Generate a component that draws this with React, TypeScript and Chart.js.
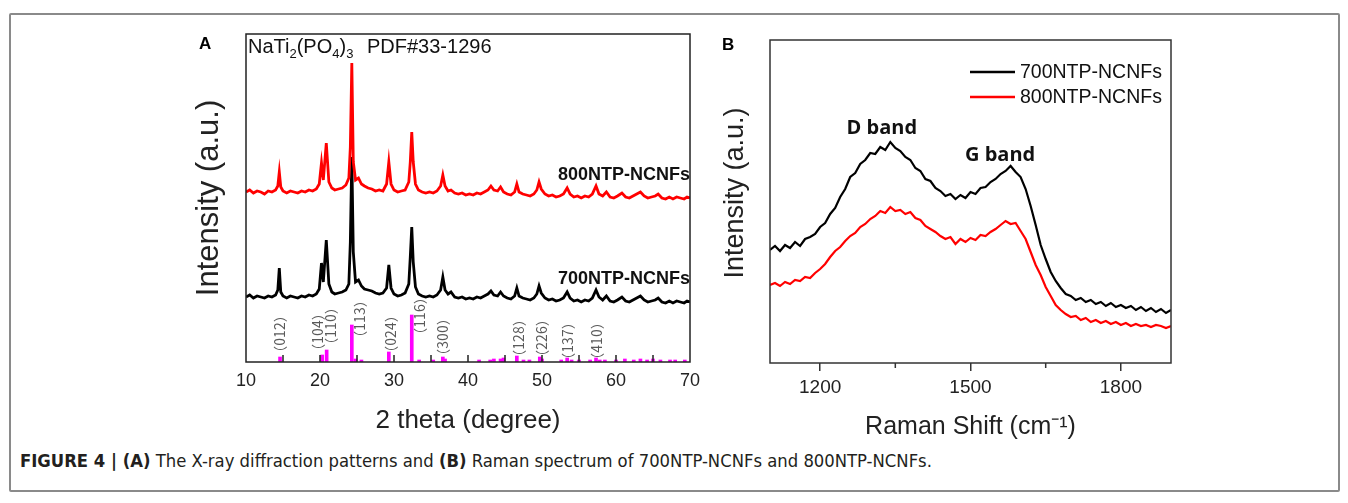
import React, { useEffect, useRef } from 'react';
import { Chart, registerables } from 'chart.js';

Chart.register(...registerables);

const SANS = '"Liberation Sans", Arial, Helvetica, sans-serif';
const CJK = '"Noto Sans CJK SC", "Liberation Sans", sans-serif';
const BAND = '"Open Sans", "Liberation Sans", sans-serif';

// ---------------- Panel A : XRD ----------------
const xrdTheta = [
  10.0, 10.5, 11.0, 11.5, 12.0, 12.5, 13.0, 13.5, 14.0, 14.3,
  14.5, 14.7, 15.0, 15.5, 16.0, 16.5, 17.0, 17.5, 18.0, 18.5,
  19.0, 19.5, 19.9, 20.2, 20.45, 20.85, 21.2, 21.6, 22.0, 22.5,
  23.0, 23.5, 23.9, 24.1, 24.3, 24.5, 24.8, 25.2, 25.6, 26.0,
  26.5, 27.0, 27.5, 28.0, 28.5, 29.0, 29.3, 29.6, 30.0, 30.5,
  31.0, 31.5, 32.0, 32.2, 32.4, 32.6, 32.9, 33.3, 33.8, 34.3,
  34.8, 35.3, 35.8, 36.3, 36.6, 36.9, 37.3, 37.7, 38.2, 38.7,
  39.2, 39.7, 40.2, 40.7, 41.2, 41.7, 42.2, 42.7, 43.1, 43.5,
  44.0, 44.4, 44.8, 45.3, 45.8, 46.3, 46.6, 46.9, 47.4, 47.9,
  48.4, 48.9, 49.3, 49.6, 49.9, 50.4, 50.9, 51.4, 51.9, 52.4,
  52.9, 53.4, 53.8, 54.3, 54.8, 55.3, 55.8, 56.3, 56.8, 57.3,
  57.7, 58.2, 58.7, 59.2, 59.7, 60.2, 60.8, 61.3, 61.8, 62.3,
  62.8, 63.3, 63.8, 64.3, 64.8, 65.3, 65.7, 66.2, 66.7, 67.2,
  67.7, 68.2, 68.7, 69.2, 69.6, 70.0,
];

const xrd800 = [
  170, 172, 169, 171, 170, 168, 171, 170, 172, 176,
  190, 175, 171, 169, 171, 170, 169, 171, 170, 172,
  171, 173, 178, 199, 182, 219, 180, 174, 172, 173,
  174, 177, 184, 215, 299, 200, 182, 184, 178, 176,
  174, 173, 171, 172, 171, 178, 200, 178, 172, 170,
  171, 172, 180, 200, 230, 200, 178, 172, 170, 169,
  170, 169, 171, 176, 187, 176, 171, 172, 169, 168,
  169, 167, 168, 167, 169, 168, 170, 172, 176, 172,
  171, 175, 170, 168, 167, 170, 178, 170, 168, 167,
  166, 168, 172, 180, 173, 168, 166, 167, 165, 166,
  168, 174, 168, 165, 166, 164, 166, 165, 168, 176,
  168, 166, 170, 165, 164, 166, 169, 165, 164, 166,
  168, 170, 166, 164, 165, 166, 168, 164, 163, 165,
  163, 165, 164, 163, 165, 164,
];

const xrd700 = [
  65, 67, 64, 66, 65, 64, 66, 65, 67, 72,
  94, 70, 66, 64, 66, 65, 64, 66, 65, 67,
  66, 68, 73, 99, 80, 122, 78, 70, 68, 69,
  70, 72, 78, 120, 205, 110, 80, 82, 76, 73,
  72, 71, 69, 68, 69, 74, 97, 74, 68, 66,
  67, 69, 78, 105, 135, 100, 75, 68, 66, 65,
  66, 65, 67, 72, 85, 72, 68, 70, 65, 64,
  65, 63, 64, 63, 65, 64, 66, 68, 71, 67,
  66, 70, 66, 64, 63, 66, 74, 66, 64, 63,
  62, 64, 68, 76, 69, 64, 62, 63, 61, 62,
  64, 70, 64, 61, 62, 60, 62, 61, 64, 72,
  65, 62, 66, 61, 60, 62, 65, 61, 60, 62,
  64, 66, 62, 60, 61, 62, 64, 60, 59, 61,
  59, 61, 60, 59, 61, 60,
];

// NaTi2(PO4)3 reference pattern (PDF#33-1296)
const pdfTheta = [
  14.6, 20.3, 20.9, 24.3, 24.8, 25.6, 29.3, 32.4, 33.4, 35.3,
  36.6, 36.9, 41.5, 43.0, 43.5, 44.4, 44.8, 46.6, 47.5, 48.3,
  49.7, 50.0, 52.6, 53.4, 54.0, 55.0, 56.5, 57.3, 57.8, 58.5,
  60.0, 61.2, 62.4, 63.3, 64.2, 65.0, 66.0, 67.3, 68.0, 69.3,
];
const pdfIntensity = [
  5, 7, 12, 37, 3, 2, 10, 47, 2, 2,
  5, 3, 2, 2, 3, 3, 4, 6, 2, 2,
  5, 3, 2, 4, 2, 2, 2, 4, 2, 2,
  2, 3, 2, 3, 2, 3, 2, 2, 2, 2,
];

const hklLabels = ['（012）', '（104）', '（110）', '（113）', '（024）', '（116）', '（300）', '（128）', '（226）', '（137）', '（410）'];
const hklTheta = [14.6, 19.7, 21.5, 25.4, 29.6, 33.5, 36.6, 46.8, 49.9, 53.5, 57.4];
const hklCenter = [28, 30, 36, 43, 28, 46, 25, 24, 24, 21, 21];

const xrdTicks = [10, 20, 30, 40, 50, 60, 70];
const xrdInnerTicks = [15, 20, 25, 30, 35, 40, 45, 50, 55, 60, 65];
const xrdSampleLabels = ['800NTP-NCNFs', '700NTP-NCNFs'];
const xrdSampleLabelY = [187, 83];

// ---------------- Panel B : Raman ----------------
const ramanShift = [
  1100, 1110, 1120, 1130, 1140, 1150, 1160, 1170, 1180, 1190,
  1200, 1210, 1220, 1230, 1240, 1250, 1260, 1270, 1280, 1290,
  1300, 1310, 1320, 1330, 1340, 1350, 1360, 1370, 1380, 1390,
  1400, 1410, 1420, 1430, 1440, 1450, 1460, 1470, 1480, 1490,
  1500, 1510, 1520, 1530, 1540, 1550, 1560, 1570, 1580, 1590,
  1600, 1610, 1620, 1630, 1640, 1650, 1660, 1670, 1680, 1690,
  1700, 1710, 1720, 1730, 1740, 1750, 1760, 1770, 1780, 1790,
  1800, 1810, 1820, 1830, 1840, 1850, 1860, 1870, 1880, 1890,
  1900,
];
const raman700 = [
  113, 117, 112, 118, 115, 121, 117, 124, 126, 129,
  136, 140, 149, 155, 166, 174, 186, 190, 199, 203,
  210, 209, 216, 213, 221, 215, 212, 206, 203, 195,
  192, 184, 182, 175, 172, 167, 169, 164, 168, 165,
  171, 169, 175, 176, 181, 184, 189, 192, 197, 191,
  186, 174, 157, 138, 118, 104, 91, 82, 75, 69,
  67, 63, 65, 61, 63, 59, 61, 57, 60, 56,
  58, 55, 57, 53, 56, 52, 55, 51, 54, 50,
  53,
];
const raman800 = [
  78, 80, 77, 81, 79, 83, 82, 86, 85, 90,
  94, 99, 106, 112, 116, 122, 127, 130, 136, 139,
  144, 147, 152, 150, 156, 152, 153, 149, 151, 145,
  143, 137, 134, 131, 127, 124, 126, 119, 124, 121,
  125, 123, 128, 127, 131, 134, 138, 142, 139, 140,
  132, 124, 111, 98, 88, 76, 67, 58, 53, 49,
  46, 47, 43, 45, 41, 43, 40, 42, 39, 41,
  38, 40, 37, 39, 37, 38, 36, 38, 37, 35,
  37,
];
const ramanTicks = [1200, 1500, 1800];
const ramanMinorTicks = [1350, 1650];
const bandLabels = ['D band', 'G band'];
const bandX = [1323, 1559];
const bandY = [235, 208];
const ramanYTitle = 'Intensity (a.u.)';
const ramanYTitleCenter = 170;

// ---------------- plugins ----------------
const panelAPlugin = {
  id: 'panelA',
  afterDatasetsDraw(chart: any) {
    const { ctx, chartArea: ca, scales } = chart;
    const x = scales.x;
    const y = scales.y;
    ctx.save();
    // hkl labels (rotated)
    ctx.fillStyle = '#5a5a5a';
    ctx.font = `14px ${CJK}`;
    ctx.textAlign = 'center';
    ctx.textBaseline = 'middle';
    hklLabels.forEach((t, i) => {
      const px = x.getPixelForValue(hklTheta[i]);
      const py = y.getPixelForValue(hklCenter[i]);
      ctx.save();
      ctx.translate(px, py);
      ctx.rotate(-Math.PI / 2);
      ctx.fillText(t, 0, 0);
      ctx.restore();
    });
    // sample labels
    ctx.fillStyle = '#111';
    ctx.font = `bold 18px ${SANS}`;
    ctx.textAlign = 'right';
    xrdSampleLabels.forEach((t, i) => {
      ctx.fillText(t, x.getPixelForValue(70), y.getPixelForValue(xrdSampleLabelY[i]));
    });
    // inward ticks
    ctx.strokeStyle = '#222';
    ctx.lineWidth = 1.5;
    ctx.beginPath();
    xrdInnerTicks.forEach((t) => {
      const px = x.getPixelForValue(t);
      ctx.moveTo(px, ca.bottom);
      ctx.lineTo(px, ca.bottom - 7);
    });
    ctx.stroke();
    // frame
    ctx.strokeRect(ca.left, ca.top, ca.right - ca.left, ca.bottom - ca.top);
    // formula title
    ctx.fillStyle = '#111';
    ctx.textAlign = 'left';
    ctx.textBaseline = 'alphabetic';
    const parts: [string, number][] = [['NaTi', 0], ['2', 1], ['(PO', 0], ['4', 1], [')', 0], ['3', 1]];
    let cx = ca.left + 2;
    const by = ca.top + 19;
    parts.forEach(([t, sub]) => {
      ctx.font = sub ? `13px ${SANS}` : `20px ${SANS}`;
      ctx.fillText(t, cx, sub ? by + 5 : by);
      cx += ctx.measureText(t).width;
    });
    ctx.font = `20px ${SANS}`;
    ctx.fillText('PDF#33-1296', ca.left + 121, by);
    // panel letter
    ctx.font = `bold 17px ${SANS}`;
    ctx.fillStyle = '#000';
    ctx.fillText('A', ca.left - 47, ca.top + 15);
    ctx.restore();
  },
};

const panelBPlugin = {
  id: 'panelB',
  afterDatasetsDraw(chart: any) {
    const { ctx, chartArea: ca, scales } = chart;
    const x = scales.x;
    const y = scales.y;
    ctx.save();
    ctx.strokeStyle = '#333';
    ctx.lineWidth = 1.5;
    ctx.strokeRect(ca.left, ca.top, ca.right - ca.left, ca.bottom - ca.top);
    ctx.beginPath();
    ramanMinorTicks.forEach((t) => {
      const px = x.getPixelForValue(t);
      ctx.moveTo(px, ca.bottom);
      ctx.lineTo(px, ca.bottom + 5);
    });
    ctx.stroke();
    // y-axis title
    ctx.save();
    ctx.fillStyle = '#222';
    ctx.font = `27px ${SANS}`;
    ctx.textAlign = 'center';
    ctx.textBaseline = 'middle';
    ctx.translate(ca.left - 34, y.getPixelForValue(ramanYTitleCenter));
    ctx.rotate(-Math.PI / 2);
    ctx.fillText(ramanYTitle, 0, 0);
    ctx.restore();
    // band labels
    ctx.fillStyle = '#111';
    ctx.font = `bold 20px ${BAND}`;
    ctx.textAlign = 'center';
    ctx.textBaseline = 'middle';
    bandLabels.forEach((t, i) => {
      ctx.fillText(t, x.getPixelForValue(bandX[i]), y.getPixelForValue(bandY[i]));
    });
    // legend
    ctx.textAlign = 'left';
    ctx.font = `19.5px ${SANS}`;
    chart.data.datasets.forEach((ds: any, i: number) => {
      const ly = ca.top + 32 + i * 25;
      const lx = ca.left + 200;
      ctx.strokeStyle = ds.borderColor;
      ctx.lineWidth = 2.5;
      ctx.beginPath();
      ctx.moveTo(lx, ly);
      ctx.lineTo(lx + 45, ly);
      ctx.stroke();
      ctx.fillStyle = '#111';
      ctx.fillText(ds.label, lx + 50, ly + 1);
    });
    // panel letter
    ctx.font = `bold 17px ${SANS}`;
    ctx.fillStyle = '#000';
    ctx.textBaseline = 'alphabetic';
    ctx.fillText('B', ca.left - 48, ca.top + 10);
    ctx.restore();
  },
};

function makeXrdConfig(): any {
  return {
    type: 'line',
    data: {
      datasets: [
        {
          label: '800NTP-NCNFs',
          data: xrdTheta.map((t, i) => ({ x: t, y: xrd800[i] })),
          borderColor: '#ff0000',
          backgroundColor: '#ff0000',
          borderWidth: 2.8,
          pointRadius: 0,
          tension: 0,
          order: 0,
        },
        {
          label: '700NTP-NCNFs',
          data: xrdTheta.map((t, i) => ({ x: t, y: xrd700[i] })),
          borderColor: '#000000',
          backgroundColor: '#000000',
          borderWidth: 2.8,
          pointRadius: 0,
          tension: 0,
          order: 1,
        },
        {
          type: 'bar',
          label: 'PDF#33-1296',
          data: pdfTheta.map((t, i) => ({ x: t, y: pdfIntensity[i] })),
          backgroundColor: '#ff00ff',
          barThickness: 3,
          grouped: false,
          order: 2,
        },
      ],
    },
    options: {
      responsive: false,
      animation: false,
      events: [],
      layout: { padding: { left: 0, top: 14, right: 20, bottom: 0 } },
      plugins: { legend: { display: false }, tooltip: { enabled: false } },
      scales: {
        x: {
          type: 'linear',
          min: 10,
          max: 70,
          offset: false,
          grid: { display: false, offset: false },
          border: { display: false },
          afterBuildTicks: (s: any) => {
            s.ticks = xrdTicks.map((v) => ({ value: v }));
          },
          ticks: {
            padding: 0,
            color: '#222',
            maxRotation: 0,
            autoSkip: false,
            font: { family: SANS, size: 18 },
            callback: (v: any) => String(v),
          },
          title: {
            display: true,
            text: '2 theta (degree)',
            color: '#222',
            font: { family: SANS, size: 26 },
            padding: { top: 0, bottom: 4 },
          },
          afterFit: (s: any) => {
            s.height = 78;
          },
        },
        y: {
          type: 'linear',
          min: 0,
          max: 328,
          grid: { display: false },
          border: { display: false },
          ticks: { display: false },
          title: {
            display: true,
            text: 'Intensity (a.u.)',
            color: '#222',
            font: { family: SANS, size: 31 },
            padding: { top: 41, bottom: 0 },
          },
          afterFit: (s: any) => {
            s.width = 96;
          },
        },
      },
    },
    plugins: [panelAPlugin],
  };
}

function makeRamanConfig(): any {
  return {
    type: 'line',
    data: {
      datasets: [
        {
          label: '700NTP-NCNFs',
          data: ramanShift.map((s, i) => ({ x: s, y: raman700[i] })),
          borderColor: '#000000',
          backgroundColor: '#000000',
          borderWidth: 2.2,
          pointRadius: 0,
          tension: 0,
        },
        {
          label: '800NTP-NCNFs',
          data: ramanShift.map((s, i) => ({ x: s, y: raman800[i] })),
          borderColor: '#ff0000',
          backgroundColor: '#ff0000',
          borderWidth: 2.2,
          pointRadius: 0,
          tension: 0,
        },
      ],
    },
    options: {
      responsive: false,
      animation: false,
      events: [],
      layout: { padding: { left: 0, top: 20, right: 29, bottom: 0 } },
      plugins: { legend: { display: false }, tooltip: { enabled: false } },
      scales: {
        x: {
          type: 'linear',
          min: 1100,
          max: 1900,
          offset: false,
          grid: { display: true, drawOnChartArea: false, drawTicks: true, tickLength: 8, color: '#333', lineWidth: 1.5 },
          border: { display: false },
          afterBuildTicks: (s: any) => {
            s.ticks = ramanTicks.map((v) => ({ value: v }));
          },
          ticks: {
            padding: 5,
            color: '#222',
            maxRotation: 0,
            autoSkip: false,
            font: { family: SANS, size: 19 },
            callback: (v: any) => String(v),
          },
          title: {
            display: true,
            text: 'Raman Shift (cm⁻¹)',
            color: '#222',
            font: { family: SANS, size: 25 },
            padding: { top: 0, bottom: -2 },
          },
          afterFit: (s: any) => {
            s.height = 77;
          },
        },
        y: {
          type: 'linear',
          min: 0,
          max: 323,
          grid: { display: false },
          border: { display: false },
          ticks: { display: false },
          title: { display: false },
          afterFit: (s: any) => {
            s.width = 70;
          },
        },
      },
    },
    plugins: [panelBPlugin],
  };
}

export default function App() {
  const refA = useRef<HTMLCanvasElement>(null);
  const refB = useRef<HTMLCanvasElement>(null);

  useEffect(() => {
    const a = new Chart(refA.current as HTMLCanvasElement, makeXrdConfig());
    const b = new Chart(refB.current as HTMLCanvasElement, makeRamanConfig());
    return () => {
      a.destroy();
      b.destroy();
    };
  }, []);

  return (
    <div style={{ position: 'absolute', left: 0, top: 0, width: 1348, height: 503, background: '#fff', overflow: 'hidden' }}>
      <div
        style={{
          position: 'absolute',
          left: 9,
          top: 13,
          width: 1331,
          height: 479,
          border: '2px solid #8a8a8a',
          boxSizing: 'border-box',
          borderRadius: 2,
        }}
      />
      <canvas ref={refA} width={560} height={420} style={{ position: 'absolute', left: 150, top: 20, width: 560, height: 420 }} />
      <canvas ref={refB} width={500} height={420} style={{ position: 'absolute', left: 700, top: 20, width: 500, height: 420 }} />
      <div
        style={{
          position: 'absolute',
          left: 20,
          top: 451,
          fontFamily: '"Liberation Sans Narrow", "DejaVu Sans Condensed", sans-serif',
          fontSize: 18.3,
          lineHeight: '20px',
          color: '#231f20',
          whiteSpace: 'nowrap',
        }}
      >
        <b>FIGURE 4 | (A)</b> The X-ray diffraction patterns and <b>(B)</b> Raman spectrum of 700NTP-NCNFs and 800NTP-NCNFs.
      </div>
    </div>
  );
}
